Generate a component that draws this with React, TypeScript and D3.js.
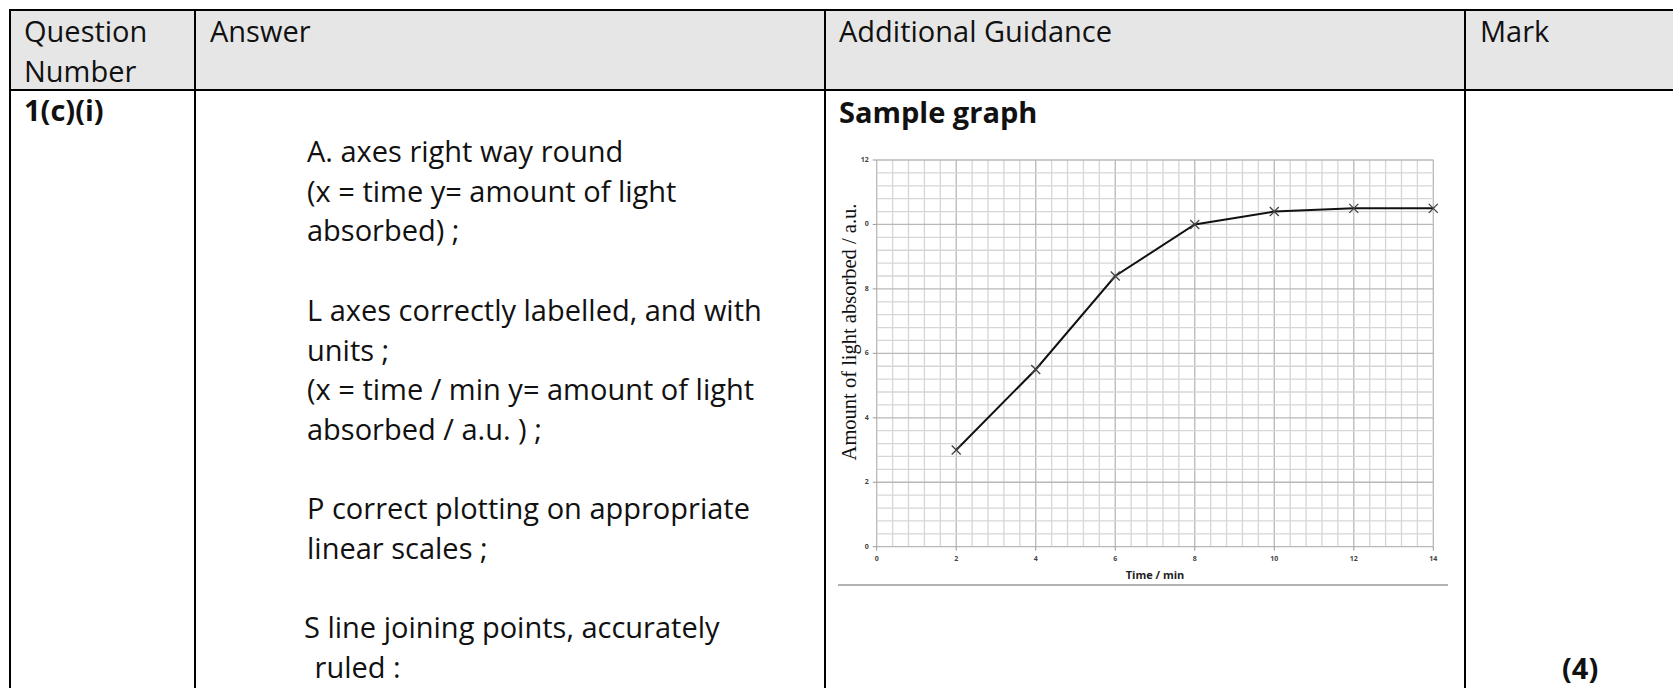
import * as d3 from "d3";

// chart data
const timeMin = [2, 4, 6, 8, 10, 12, 14];
const absorbed = [3.0, 5.5, 8.4, 10.0, 10.4, 10.5, 10.5];
const xTickValues = [0, 2, 4, 6, 8, 10, 12, 14];
const yTickValues = [0, 2, 4, 6, 8, 10, 12];
const yTickLabels = ["0", "2", "4", "6", "8", "0", "12"]; // "10" shows clipped in the scan

// table text
const headers = ["Question", "Answer", "Additional Guidance", "Mark"];
const answerLines = [
  "A. axes right way round",
  "(x = time y= amount of light",
  "absorbed) ;",
  "",
  "L axes correctly labelled, and with",
  "units ;",
  "(x = time / min y= amount of light",
  "absorbed / a.u. ) ;",
  "",
  "P correct plotting on appropriate",
  "linear scales ;",
  "",
  "S line joining points, accurately",
  " ruled :",
];

const W = 1673;
const H = 688;
const font = "'Open Sans', sans-serif";

const App = () => {
  const colX = [10, 195, 825, 1465];
  const headTop = 10;
  const headBottom = 90;

  const x = d3.scaleLinear().domain([0, 14]).range([876.7, 1433.3]);
  const y = d3.scaleLinear().domain([0, 12]).range([546.7, 160]);

  const minorX = d3.range(0, 14.001, 0.4);
  const minorY = d3.range(0, 12.001, 0.4);

  const pts = timeMin.map((t, i) => [t, absorbed[i]] as [number, number]);
  const line = d3
    .line<[number, number]>()
    .x((d) => x(d[0]))
    .y((d) => y(d[1]));

  return (
    <svg
      width={W}
      height={H}
      style={{ position: "absolute", left: 0, top: 0, background: "#fff" }}
    >
      {/* header band */}
      <rect x={10} y={headTop} width={W} height={headBottom - headTop} fill="#e6e6e6" />

      {/* table lines */}
      <g stroke="#000" strokeWidth={2}>
        <line x1={10} x2={W + 5} y1={headTop} y2={headTop} />
        <line x1={10} x2={W + 5} y1={headBottom} y2={headBottom} />
        {colX.map((cx) => (
          <line key={cx} x1={cx} x2={cx} y1={headTop - 1} y2={H + 5} />
        ))}
      </g>

      {/* header text */}
      <g fontFamily={font} fontSize={29} fill="#111">
        <text x={24} y={42}>{headers[0]}</text>
        <text x={24} y={82}>Number</text>
        <text x={210} y={42}>{headers[1]}</text>
        <text x={839} y={42}>{headers[2]}</text>
        <text x={1480} y={42}>{headers[3]}</text>
      </g>

      {/* body */}
      <g fontFamily={font} fontSize={29} fontWeight={700} fill="#111">
        <text x={24} y={121}>1(c)(i)</text>
        <text x={839} y={123}>Sample graph</text>
        <text x={1562} y={679}>(4)</text>
      </g>
      <g fontFamily={font} fontSize={29} fill="#111">
        {answerLines.map((l, i) => (
          <text key={i} x={l.startsWith("S ") ? 304 : 307} y={162 + i * 39.7} xmlSpace="preserve">
            {l}
          </text>
        ))}
      </g>

      {/* sample graph grid */}
      <g fill="none">
        {minorX.map((v, i) => (
          <line
            key={"mx" + i}
            x1={x(v)}
            x2={x(v)}
            y1={y(12)}
            y2={y(0)}
            stroke={i % 5 === 0 ? "#b8b8b8" : "#d6d6d6"}
            strokeWidth={1.3}
          />
        ))}
        {minorY.map((v, i) => (
          <line
            key={"my" + i}
            x1={x(0)}
            x2={x(14)}
            y1={y(v)}
            y2={y(v)}
            stroke={i % 5 === 0 ? "#b8b8b8" : "#d6d6d6"}
            strokeWidth={1.3}
          />
        ))}
        {yTickValues.map((v) => (
          <line key={"yt" + v} x1={x(0) - 4} x2={x(0)} y1={y(v)} y2={y(v)} stroke="#999" />
        ))}
        {xTickValues.map((v) => (
          <line key={"xt" + v} x1={x(v)} x2={x(v)} y1={y(0)} y2={y(0) + 4} stroke="#999" />
        ))}
      </g>

      {/* tick labels */}
      <g fontFamily={font} fontSize={7} fontWeight={700} fill="#444">
        {yTickValues.map((v, i) => (
          <text key={"yl" + v} x={x(0) - 8} y={y(v)} textAnchor="end" dominantBaseline="middle">
            {yTickLabels[i]}
          </text>
        ))}
        {xTickValues.map((v) => (
          <text key={"xl" + v} x={x(v)} y={561} textAnchor="middle">
            {v}
          </text>
        ))}
      </g>

      {/* axis titles */}
      <text
        x={x(7)}
        y={579}
        textAnchor="middle"
        fontFamily={font}
        fontSize={11}
        fontWeight={700}
        fill="#222"
      >
        Time / min
      </text>
      <text
        transform={`translate(856, 332) rotate(-90)`}
        textAnchor="middle"
        fontFamily="'Liberation Serif', 'Times New Roman', serif"
        fontSize={20.5}
        fill="#111"
      >
        Amount of light absorbed / a.u.
      </text>

      {/* data line and cross markers */}
      <path d={line(pts) ?? ""} fill="none" stroke="#111" strokeWidth={2} />
      <g stroke="#444" strokeWidth={1.3}>
        {pts.map((d, i) => (
          <g key={"m" + i} transform={`translate(${x(d[0])},${y(d[1])})`}>
            <line x1={-4.5} y1={-4.5} x2={4.5} y2={4.5} />
            <line x1={-4.5} y1={4.5} x2={4.5} y2={-4.5} />
          </g>
        ))}
      </g>

      {/* rule under the graph */}
      <line x1={838} x2={1448} y1={585} y2={585} stroke="#999" strokeWidth={1.5} />
    </svg>
  );
};

export default App;
